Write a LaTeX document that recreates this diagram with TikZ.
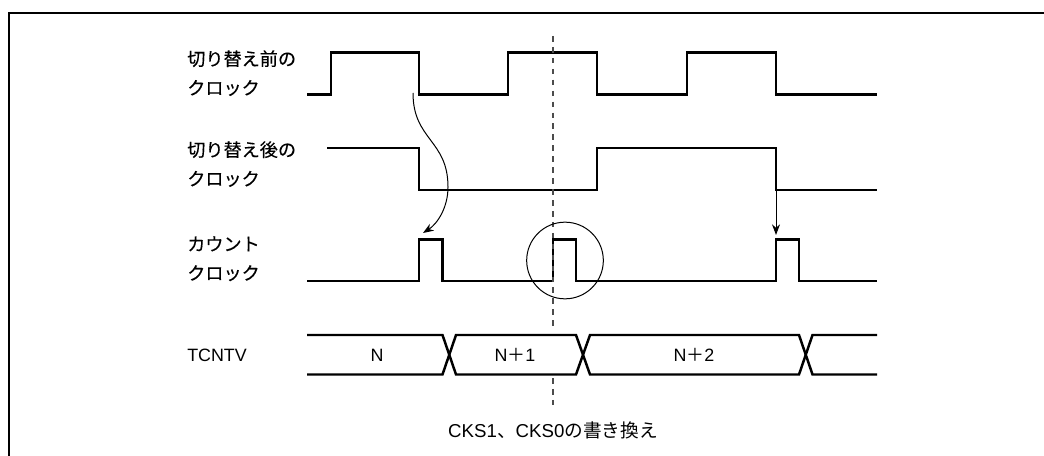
\documentclass[tikz,border=0pt]{standalone}
\usepackage{fontspec}
\setmainfont{Liberation Sans}
\newfontfamily\jpfont[FakeBold=0.25]{Noto Sans CJK JP}
\newfontfamily\jpnote{Noto Sans CJK JP}
\usetikzlibrary{arrows.meta,positioning}
\tikzset{
  wave_line/.style={draw=black,line width=1.85pt,line join=miter},
  thin_line/.style={draw=black,line width=0.75pt},
  mark_line/.style={draw=black!70,line width=1.1pt,dash pattern=on 4.2pt off 4pt},
  label_jp/.style={inner sep=0pt,anchor=north west,align=left,font=\fontsize{13.6}{21.8}\selectfont\jpfont},
  label_txt/.style={inner sep=0pt,font=\fontsize{13.4}{15}\selectfont},
  arr/.style={-{Stealth[length=8pt,width=6pt]},thin_line},
}
\begin{document}
\begin{tikzpicture}[x=0.75pt,y=-0.75pt]
      \useasboundingbox (0,0) rectangle (1044,456);
      \draw[line width=1.6pt] (9,456)--(9,13)--(1044,13);
      % labels
      \node[label_jp] (clk_a) at (187,50) {切り替え前の\\クロック};
      \node[label_jp] (clk_b) at (187,141) {切り替え後の\\クロック};
      \node[label_jp] (cnt) at (187,236) {カウント\\クロック};
      \node[label_txt,anchor=west] (tcntv) at (187,355) {TCNTV};
      \node[label_txt] (val_n) at (377,355) {N};
      \node[label_txt] (val_a) at (515,355) {N{\jpnote ＋}1};
      \node[label_txt] (val_b) at (694,355) {N{\jpnote ＋}2};
      \node[label_txt,font=\fontsize{14}{16}\selectfont] (note) at (553,430) {CKS1{\jpnote 、}CKS0{\jpnote の書き換え}};
      % waves
      \draw[wave_line] (307,94.5)-|(331,52.5)-|(419,94.5)-|(508,52.5)-|(597,94.5)-|(687,52.5)-|(776,94.5)--(877,94.5);
      \draw[wave_line] (327,148)-|(419,190)-|(597,148)-|(776,190)--(877,190);
      \draw[wave_line] (307,281)-|(419,239.5)-|(442.5,281)-|(553,239.5)-|(576,281)-|(776,239.5)-|(799,281)--(877,281);
      \draw[wave_line] (307,335)--(442.5,335)--(456,374.5)--(576,374.5)--(590,335)--(799,335)--(812.5,374.5)--(877,374.5);
      \draw[wave_line] (307,374.5)--(442.5,374.5)--(456,335)--(576,335)--(590,374.5)--(799,374.5)--(812.5,335)--(877,335);
      % change point
      \coordinate (mark_top) at (553,36);
      \coordinate (mark_mid) at (553,329);
      \coordinate (mark_low) at (553,378);
      \coordinate (mark_bot) at (553,410);
      \draw[mark_line] (mark_top)--(mark_mid);
      \draw[mark_line] (mark_low)--(mark_bot);
      \node[draw,thin_line,circle,minimum size=57.5pt,inner sep=0pt] (ring) at (565,260.5) {};
      % arrows
      \coordinate (src_a) at (413,93);
      \coordinate (dst_a) at (423,233);
      \coordinate (src_b) at (776,190);
      \coordinate (dst_b) at (776,235);
      \draw[arr] (src_a) .. controls (413,140) and (448,140) .. (448,187) .. controls (448,208) and (437,224) .. (dst_a);
      \draw[arr] (src_b)--(dst_b);
    \end{tikzpicture}
\end{document}
